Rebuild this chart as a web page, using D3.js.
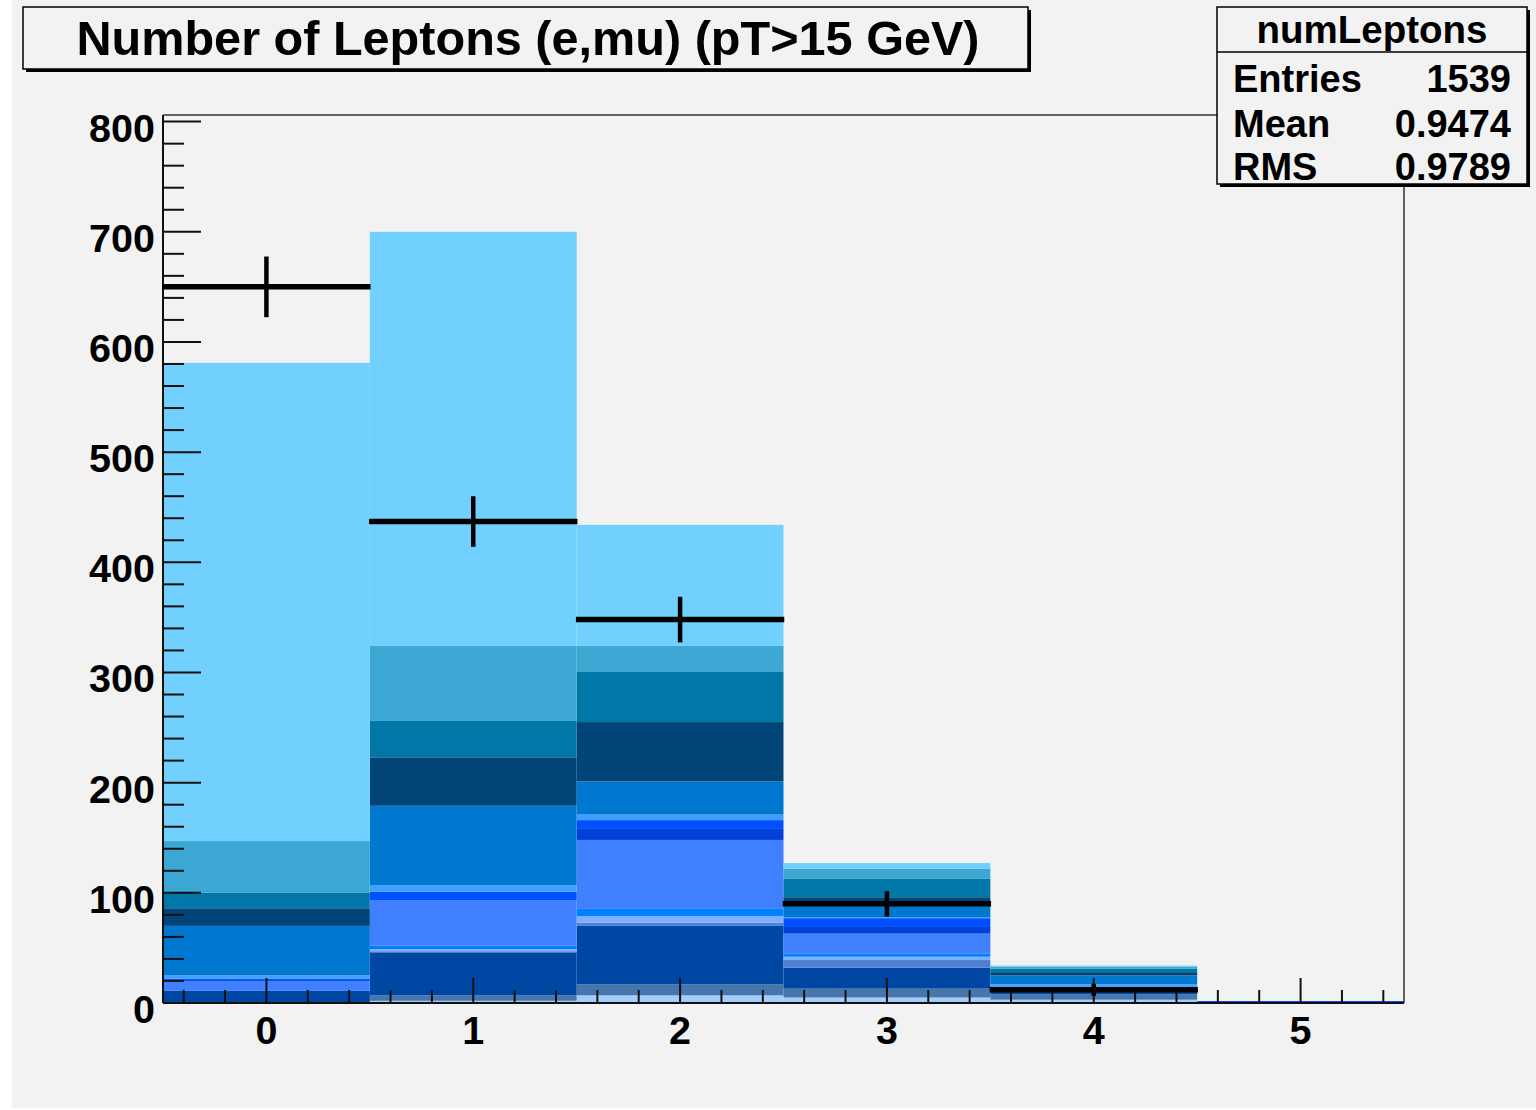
<!DOCTYPE html>
<html>
<head>
<meta charset="utf-8">
<script src="https://cdn.jsdelivr.net/npm/d3@7"></script>
<style>
  html, body { margin: 0; padding: 0; background: #fff; }
  svg { display: block; font-family: "Liberation Sans", Arial, Helvetica, sans-serif; font-weight: bold; }
</style>
</head>
<body>
<svg id="chart" width="1536" height="1110"></svg>
<script>
// ---- data ----
const bins = [0, 1, 2, 3, 4, 5];

// stacked MC layers, bottom -> top, one value per bin
const layerPale       = [0, 2, 7, 5, 3, 0];
const layerSteel      = [0, 5, 10, 8, 5, 0];
const layerDark       = [11, 39, 53, 19, 3, 0];
const layerSteelLight = [0, 1, 3, 7, 0, 0];
const layerLilac      = [0, 2, 6, 3, 0, 0];
const layerAzure      = [0, 3, 7, 3, 0, 0];
const layerCornflower = [9, 41, 62, 18, 3, 0];
const layerDeep       = [0, 0, 10, 6, 0, 0];
const layerBright     = [2, 8, 8, 8, 1, 0];
const layerStripe     = [3, 6, 5, 1, 2, 0];
const layerBlue       = [45, 72, 30, 12, 8, 0];
const layerNavy       = [16, 44, 54, 6, 3, 0];
const layerTeal       = [14, 33, 46, 17, 3, 0];
const layerMedium     = [47, 68, 23, 9, 2, 0];
const layerSky        = [434, 376, 110, 5, 1, 0];

// data points
const dataCounts = [650, 437, 348, 90, 12];

const yTicks = [0, 100, 200, 300, 400, 500, 600, 700, 800];
const xTicks = [0, 1, 2, 3, 4, 5];

const statRows = [["Entries", "1539"], ["Mean", "0.9474"], ["RMS", "0.9789"]];

const layers = [
  { key: "pale",       values: layerPale,       color: "#A2CDFB" },
  { key: "steel",      values: layerSteel,      color: "#4676AC" },
  { key: "dark",       values: layerDark,       color: "#0047A3" },
  { key: "steelLight", values: layerSteelLight, color: "#4F80D2" },
  { key: "lilac",      values: layerLilac,      color: "#7FB0FF" },
  { key: "azure",      values: layerAzure,      color: "#0080FF" },
  { key: "cornflower", values: layerCornflower, color: "#4080FF" },
  { key: "deep",       values: layerDeep,       color: "#0040D8" },
  { key: "bright",     values: layerBright,     color: "#0050FF" },
  { key: "stripe",     values: layerStripe,     color: "#40A0FF" },
  { key: "blue",       values: layerBlue,       color: "#0078D0" },
  { key: "navy",       values: layerNavy,       color: "#004478" },
  { key: "teal",       values: layerTeal,       color: "#0077A6" },
  { key: "medium",     values: layerMedium,     color: "#3DA7D3" },
  { key: "sky",        values: layerSky,        color: "#72D0FE" },
];

// ---- layout ----
const W = 1536, H = 1110;
const frame = { left: 163, right: 1404, top: 115, bottom: 1003 };
const BG = "#F2F2F2";

const svg = d3.select("#chart");
svg.append("rect").attr("x", 12).attr("y", 0).attr("width", W - 12).attr("height", 1108).attr("fill", BG);

const x = d3.scaleLinear().domain([-0.5, 5.5]).range([frame.left, frame.right]);
const y = d3.scaleLinear().domain([0, 806]).range([frame.bottom, frame.top]);

// stacked bars
const table = bins.map((b, i) => {
  const row = { bin: b };
  layers.forEach(l => row[l.key] = l.values[i]);
  return row;
});
const stack = d3.stack().keys(layers.map(l => l.key))(table);

const g = svg.append("g");
stack.forEach((series, li) => {
  g.append("g")
    .attr("fill", layers[li].color)
    .selectAll("rect")
    .data(series.filter(d => d[1] > d[0]))
    .join("rect")
    .attr("x", d => x(d.data.bin - 0.5))
    .attr("width", d => x(d.data.bin + 0.5) - x(d.data.bin - 0.5))
    .attr("y", d => y(d[1]))
    .attr("height", d => y(d[0]) - y(d[1]));
});

// empty last bin drawn as a line at zero
g.append("line")
  .attr("x1", x(4.5)).attr("x2", x(5.5))
  .attr("y1", y(0) - 1).attr("y2", y(0) - 1)
  .attr("stroke", "#0050FF").attr("stroke-width", 2);

// axis ticks (ROOT style, inside the frame)
const axes = svg.append("g").attr("stroke", "#111").attr("stroke-width", 2);
const yMinor = d3.range(0, 806, 20);
axes.selectAll(".ytick").data(yMinor).join("line")
  .attr("x1", frame.left)
  .attr("x2", d => frame.left + (d % 100 === 0 ? 38 : 21))
  .attr("y1", d => y(d)).attr("y2", d => y(d));
const xMinor = d3.range(-0.4, 5.45, 0.2).map(v => Math.round(v * 10) / 10);
axes.selectAll(".xtick").data(xMinor).join("line")
  .attr("x1", d => x(d)).attr("x2", d => x(d))
  .attr("y1", frame.bottom)
  .attr("y2", d => frame.bottom - (Number.isInteger(d) ? 25 : 13));

// frame
svg.append("path")
  .attr("d", `M${frame.left},${frame.top}H${frame.right}V${frame.bottom}`)
  .attr("fill", "none").attr("stroke", "#333").attr("stroke-width", 1.5);
axes.append("line").attr("x1", frame.left).attr("x2", frame.left).attr("y1", frame.top).attr("y2", frame.bottom);
axes.append("line").attr("x1", frame.left).attr("x2", frame.right).attr("y1", frame.bottom).attr("y2", frame.bottom);

// data points with error bars
const pts = svg.append("g").attr("stroke", "#000").attr("stroke-linecap", "square");
dataCounts.forEach((n, i) => {
  const e = Math.sqrt(n);
  pts.append("line")
    .attr("x1", x(i - 0.5) + 2).attr("x2", x(i + 0.5) - 2)
    .attr("y1", y(n)).attr("y2", y(n)).attr("stroke-width", 5.5);
  pts.append("line")
    .attr("x1", x(i)).attr("x2", x(i))
    .attr("y1", y(n - e)).attr("y2", y(n + e)).attr("stroke-width", 4.5);
});

// tick labels
svg.append("g").selectAll("text").data(yTicks).join("text")
  .attr("x", 155).attr("y", d => y(d) + 20)
  .attr("text-anchor", "end").attr("font-size", 39.5).attr("fill", "#000")
  .text(d => d);
svg.append("g").selectAll("text").data(xTicks).join("text")
  .attr("x", d => x(d)).attr("y", 1044)
  .attr("text-anchor", "middle").attr("font-size", 39.5).attr("fill", "#000")
  .text(d => d);

// boxes with shadow
function shadowBox(x0, y0, w, h) {
  svg.append("rect").attr("x", x0 + 3).attr("y", y0 + 3).attr("width", w).attr("height", h).attr("fill", "#000");
  svg.append("rect").attr("x", x0).attr("y", y0).attr("width", w).attr("height", h)
    .attr("fill", BG).attr("stroke", "#000").attr("stroke-width", 1.5);
}

// title
shadowBox(23, 7, 1005, 62);
svg.append("text").attr("x", 528).attr("y", 55).attr("text-anchor", "middle")
  .attr("font-size", 48.6).attr("fill", "#000")
  .text("Number of Leptons (e,mu) (pT>15 GeV)");

// stats box
shadowBox(1217, 7, 310, 177);
svg.append("line").attr("x1", 1217).attr("x2", 1527).attr("y1", 52).attr("y2", 52)
  .attr("stroke", "#000").attr("stroke-width", 1.5);
svg.append("text").attr("x", 1372).attr("y", 43).attr("text-anchor", "middle")
  .attr("font-size", 38.5).attr("fill", "#000").text("numLeptons");
const rowY = [92, 137, 180];
statRows.forEach(([k, v], i) => {
  svg.append("text").attr("x", 1233).attr("y", rowY[i]).attr("font-size", 38).attr("fill", "#000").text(k);
  svg.append("text").attr("x", 1511).attr("y", rowY[i]).attr("text-anchor", "end").attr("font-size", 38).attr("fill", "#000").text(v);
});
</script>
</body>
</html>
